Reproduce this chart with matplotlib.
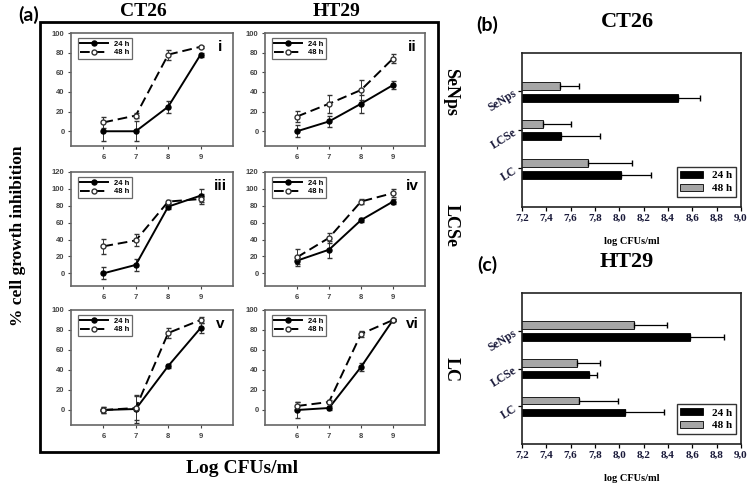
import numpy as np
import matplotlib.pyplot as plt
from matplotlib.patches import Rectangle

x_log = [6, 7, 8, 9]

# (a) % cell growth inhibition, rows: SeNps, LCSe, LC ; cols: CT26, HT29
ct26_senps_24 = [0, 0, 25, 78]
ct26_senps_24_err = [10, 10, 6, 2]
ct26_senps_48 = [9, 16, 78, 86]
ct26_senps_48_err = [6, 3, 5, 1]
ht29_senps_24 = [0, 10, 28, 47]
ht29_senps_24_err = [6, 6, 9, 4]
ht29_senps_48 = [15, 28, 42, 74]
ht29_senps_48_err = [6, 9, 10, 5]

ct26_lcse_24 = [0, 10, 79, 92]
ct26_lcse_24_err = [7, 7, 3, 8]
ct26_lcse_48 = [32, 39, 85, 88]
ct26_lcse_48_err = [9, 7, 2, 6]
ht29_lcse_24 = [15, 28, 63, 85]
ht29_lcse_24_err = [4, 10, 2, 3]
ht29_lcse_48 = [19, 42, 85, 95]
ht29_lcse_48_err = [10, 6, 3, 5]

ct26_lc_24 = [0, 1, 44, 82]
ct26_lc_24_err = [3, 14, 2, 5]
ct26_lc_48 = [0, 2, 77, 90]
ct26_lc_48_err = [3, 12, 5, 3]
ht29_lc_24 = [0, 2, 43, 90]
ht29_lc_24_err = [8, 2, 4, 1]
ht29_lc_48 = [4, 8, 76, 90]
ht29_lc_48_err = [4, 2, 3, 1]

# (b), (c) log CFUs/ml
treatments = ["LC", "LCSe", "SeNps"]
ct26_24 = [8.01, 7.52, 8.48]
ct26_24_err = [0.25, 0.32, 0.18]
ct26_48 = [7.74, 7.37, 7.51]
ct26_48_err = [0.36, 0.23, 0.16]
ht29_24 = [8.05, 7.75, 8.58]
ht29_24_err = [0.32, 0.07, 0.28]
ht29_48 = [7.67, 7.65, 8.12]
ht29_48_err = [0.32, 0.19, 0.27]
bar_ticks = [7.2, 7.4, 7.6, 7.8, 8.0, 8.2, 8.4, 8.6, 8.8, 9.0]

W, H = 755, 490
fig = plt.figure(figsize=(7.55, 4.9), dpi=100)

def box(l, t, r, b):
    return [l / W, 1 - b / H, (r - l) / W, (b - t) / H]

serif = "Liberation Serif"
sans = "Liberation Sans"


def line_panel(rect, v24, e24, v48, e48, ymax, numeral):
    ax = fig.add_axes(box(*rect))
    ax.errorbar(x_log, v24, yerr=e24, fmt="none", ecolor="#333333", elinewidth=0.7, capsize=1.8)
    ax.errorbar(x_log, v48, yerr=e48, fmt="none", ecolor="#333333", elinewidth=0.7, capsize=1.8)
    ax.plot(x_log, v24, color="black", lw=1.4, marker="o", ms=3.6, mfc="black", label="24 h")
    ax.plot(x_log, v48, color="black", lw=1.4, ls=(0, (5, 2.5)), marker="o", ms=3.6,
            mfc="white", mec="#333333", label="48 h")
    ax.set_xlim(5, 10)
    ax.set_ylim(-15, ymax)
    ax.set_xticks(x_log)
    ax.set_yticks(np.arange(0, ymax + 1, 20))
    for s in ax.spines.values():
        s.set_color("#666666")
        s.set_linewidth(1.2)
    ax.tick_params(colors="#444444", length=2.5, width=0.8, labelsize=5.5, pad=3)
    for lab in ax.get_xticklabels() + ax.get_yticklabels():
        lab.set_fontweight("bold")
        lab.set_family(sans)
    ax.tick_params(axis="y", pad=2)
    leg = ax.legend(loc="upper left", prop={"family": sans, "weight": "bold", "size": 5.5},
                    handlelength=3.6, frameon=True, fancybox=False, borderpad=0.3,
                    labelspacing=0.2, bbox_to_anchor=(0.02, 0.99))
    leg.get_frame().set_edgecolor("#444444")
    leg.get_frame().set_linewidth(0.9)
    ax.text(0.92, 0.88, numeral, transform=ax.transAxes, ha="center", va="center",
            fontsize=11, fontweight="bold", family=sans)
    return ax


line_panel((71, 33, 233, 146), ct26_senps_24, ct26_senps_24_err, ct26_senps_48, ct26_senps_48_err, 100, "i")
line_panel((265, 33, 425, 146), ht29_senps_24, ht29_senps_24_err, ht29_senps_48, ht29_senps_48_err, 100, "ii")
line_panel((71, 172, 233, 286), ct26_lcse_24, ct26_lcse_24_err, ct26_lcse_48, ct26_lcse_48_err, 120, "iii")
line_panel((265, 172, 425, 286), ht29_lcse_24, ht29_lcse_24_err, ht29_lcse_48, ht29_lcse_48_err, 120, "iv")
line_panel((71, 310, 233, 425), ct26_lc_24, ct26_lc_24_err, ct26_lc_48, ct26_lc_48_err, 100, "v")
line_panel((265, 310, 425, 425), ht29_lc_24, ht29_lc_24_err, ht29_lc_48, ht29_lc_48_err, 100, "vi")

# outer frame of (a)
fig.add_artist(Rectangle((40 / W, 1 - 452 / H), 398 / W, 430 / H, transform=fig.transFigure,
                         fill=False, lw=2, ec="black"))
fig.text(29 / W, 1 - 15 / H, "(a)", ha="center", va="center", fontsize=14, fontweight="bold", family="Lato")
fig.text(143 / W, 1 - 11 / H, "CT26", ha="center", va="center", fontsize=14, fontweight="bold", family=serif)
fig.text(337 / W, 1 - 11 / H, "HT29", ha="center", va="center", fontsize=14, fontweight="bold", family=serif)
for name, yc in [("SeNps", 92), ("LCSe", 225), ("LC", 369)]:
    fig.text(451 / W, 1 - yc / H, name, ha="center", va="center", rotation=270,
             fontsize=13, fontweight="bold", family=serif)
fig.text(18 / W, 1 - 236 / H, "% cell growth inhibition", ha="center", va="center", rotation=90,
         fontsize=12.5, fontweight="bold", family=serif)
fig.text(242 / W, 1 - 468 / H, "Log CFUs/ml", ha="center", va="center",
         fontsize=14, fontweight="bold", family=serif)


def bar_panel(rect, v24, e24, v48, e48, title, letter, ty):
    ax = fig.add_axes(box(*rect))
    y = np.arange(len(treatments))
    ax.barh(y - 0.16, v24, height=0.2, color="black", edgecolor="black", lw=0.6, label="24 h")
    ax.barh(y + 0.15, v48, height=0.2, color="#a6a6a6", edgecolor="black", lw=0.6, label="48 h")
    ax.errorbar(v24, y - 0.16, xerr=[np.zeros(3), e24], fmt="none", ecolor="black", elinewidth=0.9, capsize=2.5)
    ax.errorbar(v48, y + 0.15, xerr=[np.zeros(3), e48], fmt="none", ecolor="black", elinewidth=0.9, capsize=2.5)
    ax.set_xlim(7.2, 9.0)
    ax.set_ylim(-1.0, 3.0)
    ax.set_xticks(bar_ticks)
    ax.set_xticklabels([f"{t:.1f}".replace(".", ",") for t in bar_ticks],
                       fontsize=8, fontweight="bold", family=serif, color="#1a1a3a")
    ax.set_yticks(y)
    ax.set_yticklabels(treatments, rotation=32, ha="right", rotation_mode="anchor",
                       fontsize=8.5, fontweight="bold", family=serif, color="#1a1a3a")
    ax.tick_params(length=3, width=0.9, pad=2)
    for s in ax.spines.values():
        s.set_linewidth(1.2)
        s.set_color("#222222")
    ax.set_xlabel("log CFUs/ml", fontsize=7.5, fontweight="bold", family=serif, labelpad=10)
    leg = ax.legend(loc="lower right", prop={"family": serif, "weight": "bold", "size": 8},
                    handlelength=2.0, handleheight=0.6, fancybox=False, borderpad=0.35,
                    labelspacing=0.3, borderaxespad=0, bbox_to_anchor=(0.975, 0.065))
    leg.get_frame().set_edgecolor("black")
    leg.get_frame().set_linewidth(1.0)
    fig.text(627 / W, 1 - ty / H, title, ha="center", va="center", fontsize=16,
             fontweight="bold", family=serif)
    fig.text(487 / W, 1 - (ty + 3) / H, letter, ha="center", va="center", fontsize=14,
             fontweight="bold", family="Lato")
    return ax


bar_panel((522, 53, 741, 207), ct26_24, ct26_24_err, ct26_48, ct26_48_err, "CT26", "(b)", 22)
bar_panel((522, 293, 741, 444), ht29_24, ht29_24_err, ht29_48, ht29_48_err, "HT29", "(c)", 262)

fig.savefig("out.png", dpi=100)
